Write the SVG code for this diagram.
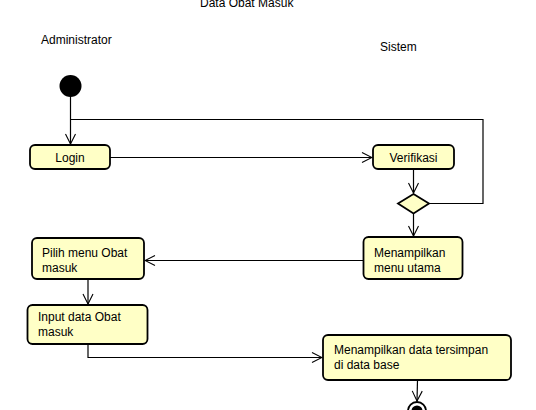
<svg xmlns="http://www.w3.org/2000/svg" width="536" height="410" viewBox="0 0 536 410">
<style>
text{font-family:"Liberation Sans",Arial,sans-serif;font-size:12px;fill:#000}
.box{fill:#FFFFC6;stroke:#000;stroke-width:1.8}
.c{fill:none;stroke:#000;stroke-width:1.2}
</style>
<defs>
<marker id="a" viewBox="0 0 12 12" refX="11" refY="6" markerWidth="12" markerHeight="12" markerUnits="userSpaceOnUse" orient="auto">
<path d="M1,1 L11,6 L1,11" fill="none" stroke="#000" stroke-width="1.1"/>
</marker>
</defs>
<rect width="536" height="410" fill="#fff"/>
<text x="200" y="7">Data Obat Masuk</text>
<text x="41" y="44">Administrator</text>
<text x="380" y="51">Sistem</text>
<g id="connectors">
<line class="c" x1="70.5" y1="96" x2="70.5" y2="144" marker-end="url(#a)"/>
<polyline class="c" points="429,203.5 483,203.5 483,119.5 70.5,119.5"/>
<line class="c" x1="110" y1="157.5" x2="372" y2="157.5" marker-end="url(#a)"/>
<line class="c" x1="413.5" y1="169" x2="413.5" y2="193" marker-end="url(#a)"/>
<line class="c" x1="413.5" y1="214" x2="413.5" y2="236" marker-end="url(#a)"/>
<line class="c" x1="363" y1="260.5" x2="145" y2="260.5" marker-end="url(#a)"/>
<line class="c" x1="88" y1="279" x2="88" y2="304" marker-end="url(#a)"/>
<polyline class="c" points="88,344 88,357.5 322,357.5" marker-end="url(#a)"/>
<line class="c" x1="417.5" y1="380" x2="417" y2="401" marker-end="url(#a)"/>
</g>
<g id="start"><circle cx="70.5" cy="86" r="11" fill="#000"/></g>
<g id="login"><rect class="box" x="30" y="145" width="80" height="24" rx="5"/><text x="70" y="161.5" text-anchor="middle">Login</text></g>
<g id="verifikasi"><rect class="box" x="373" y="145" width="81" height="24" rx="5"/><text x="413.5" y="161.5" text-anchor="middle">Verifikasi</text></g>
<g id="decision"><polygon class="box" points="413.5,194 429,203.5 413.5,213.5 398,203.5"/></g>
<g id="menu-utama"><rect class="box" x="363.5" y="237" width="99" height="42" rx="5"/><text x="374" y="256.5">Menampilkan</text><text x="374" y="271.5">menu utama</text></g>
<g id="pilih-menu"><rect class="box" x="32" y="238" width="112" height="41" rx="5"/><text x="42" y="256.5">Pilih menu Obat</text><text x="42" y="271.5">masuk</text></g>
<g id="input-data"><rect class="box" x="27.5" y="305" width="120" height="39" rx="5"/><text x="38" y="321">Input data Obat</text><text x="38" y="336">masuk</text></g>
<g id="tersimpan"><rect class="box" x="323" y="335" width="188" height="45" rx="5"/><text x="334" y="354">Menampilkan data tersimpan</text><text x="334" y="369">di data base</text></g>
<g id="end"><circle cx="417" cy="411" r="9" fill="#fff" stroke="#000" stroke-width="1.8"/><circle cx="417" cy="411" r="5.5" fill="#000"/></g>
</svg>
